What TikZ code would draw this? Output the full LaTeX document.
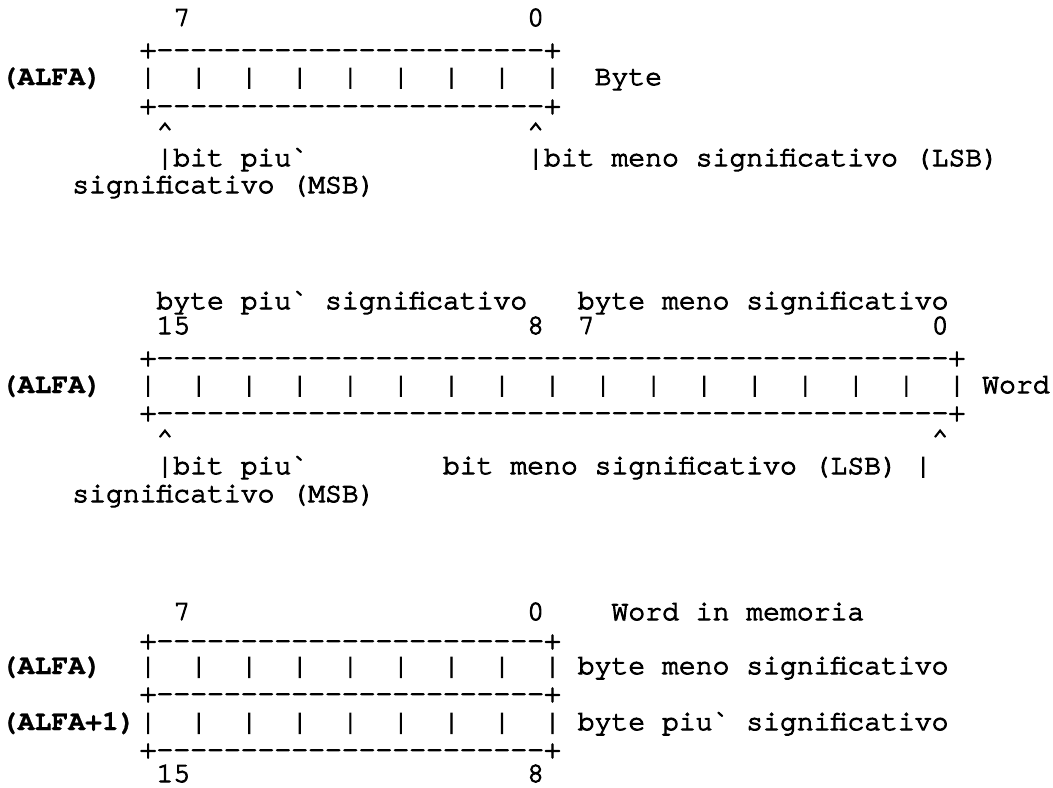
\documentclass[tikz,border=0pt]{standalone}
\usepackage{fontspec}
\setmonofont{TeX Gyre Cursor}[FakeBold=3.5]
\newfontfamily\addrfont{TeX Gyre Cursor}[FakeBold=0.8]
\ExplSyntaxOn
\NewDocumentCommand\dashes{m}{\prg_replicate:nn{#1}{-}}
\ExplSyntaxOff
% one row of a typed box border: "+", n dashes, "+"
\newcommand\border[1]{+\dashes{#1}+}
\begin{document}
\begin{tikzpicture}[x=16.85pt,y=-1pt,
  mono/.style={font=\ttfamily\fontsize{28.08pt}{28pt}\selectfont,
    anchor=base west,inner sep=0pt,outer sep=0pt},
  addr/.style={mono,xshift=-4pt,font=\addrfont\bfseries\fontsize{28.08pt}{28pt}\selectfont}]
\fill[white] (-0.29,0) rectangle (62.2,787);

% ---------------- Byte ----------------
\node[mono] (b1hi) at (10,26) {7};
\node[mono] (b1lo) at (31,26) {0};
\node[mono] (b1top) at (8,58) {\border{23}};
\node[addr] (b1addr) at (0,85) {(ALFA)};
\foreach \c in {8,11,...,32} \node[mono] (b1bar\c) at (\c,85) {|};
\node[mono] (b1name) at (35,85) {Byte};
\node[mono] (b1bot) at (8,114) {\border{23}};
\node[mono] (b1msbtip) at (9,140) {\textasciicircum};
\node[mono] (b1lsbtip) at (31,140) {\textasciicircum};
\node[mono] (b1msb) at (9,166) {|bit piu\textasciigrave};
\node[mono] (b1lsb) at (31,166) {|bit meno significativo (LSB)};
\node[mono] (b1msbb) at (4,193) {significativo (MSB)};

% ---------------- Word ----------------
\node[mono] (b2hihdr) at (9,309) {byte piu\textasciigrave{} significativo};
\node[mono] (b2lohdr) at (34,309) {byte meno significativo};
\node[mono] (b2n15) at (9,334) {15};
\node[mono] (b2n8) at (31,334) {8};
\node[mono] (b2n7) at (34,334) {7};
\node[mono] (b2n0) at (55,334) {0};
\node[mono] (b2top) at (8,366) {\border{47}};
\node[addr] (b2addr) at (0,393) {(ALFA)};
\foreach \c in {8,11,...,56} \node[mono] (b2bar\c) at (\c,393) {|};
\node[mono] (b2name) at (58,393) {Word};
\node[mono] (b2bot) at (8,421) {\border{47}};
\node[mono] (b2msbtip) at (9,447) {\textasciicircum};
\node[mono] (b2lsbtip) at (55,447) {\textasciicircum};
\node[mono] (b2msb) at (9,474) {|bit piu\textasciigrave};
\node[mono] (b2lsb) at (26,474) {bit meno significativo (LSB) |};
\node[mono] (b2msbb) at (4,502) {significativo (MSB)};

% ---------------- Word in memoria ----------------
\node[mono] (b3hi) at (10,620) {7};
\node[mono] (b3lo) at (31,620) {0};
\node[mono] (b3title) at (36,620) {Word in memoria};
\node[mono] (b3top) at (8,649) {\border{23}};
\node[addr] (b3addr) at (0,674) {(ALFA)};
\foreach \c in {8,11,...,32} \node[mono] (b3bara\c) at (\c,674) {|};
\node[mono] (b3lsbyte) at (34,674) {byte meno significativo};
\node[mono] (b3mid) at (8,702) {\border{23}};
\node[addr] (b3addrb) at (0,730) {(ALFA+1)};
\foreach \c in {8,11,...,32} \node[mono] (b3barb\c) at (\c,730) {|};
\node[mono] (b3msbyte) at (34,730) {byte piu\textasciigrave{} significativo};
\node[mono] (b3bot) at (8,758) {\border{23}};
\node[mono] (b3n15) at (9,782) {15};
\node[mono] (b3n8) at (31,782) {8};
\end{tikzpicture}
\end{document}
